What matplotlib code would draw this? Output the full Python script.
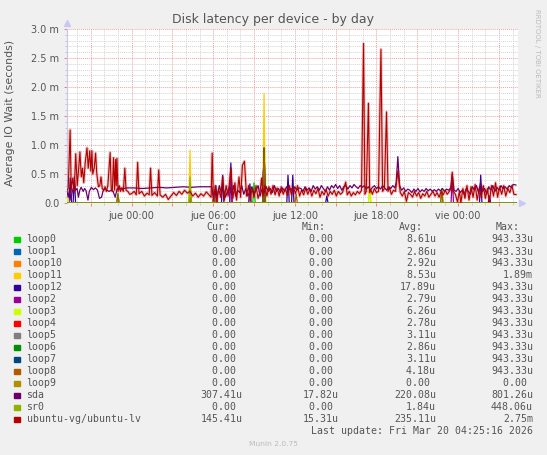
import numpy as np
import matplotlib.pyplot as plt
from matplotlib.patches import Rectangle
from matplotlib.ticker import MultipleLocator, FixedLocator

W, H = 547, 455

# hours relative to "jue 00:00", values in milliseconds
t_start, t_end = -4.74, 28.4

ubuntu_lv = [(-4.74, 0.22), (-4.65, 0.25), (-4.51, 1.26), (-4.43, 0.22), (-4.32, 0.43), (-4.21, 0.2),
             (-4.10, 0.85), (-3.99, 0.3), (-3.88, 0.6), (-3.79, 0.88), (-3.69, 0.45), (-3.60, 0.6),
             (-3.51, 0.35), (-3.40, 0.7), (-3.27, 0.95), (-3.18, 0.6), (-3.07, 0.9), (-2.99, 0.55),
             (-2.91, 0.9), (-2.85, 0.5), (-2.74, 0.6), (-2.64, 0.86), (-2.55, 0.5), (-2.43, 0.28),
             (-2.33, 0.3), (-2.24, 0.45), (-2.15, 0.25), (-2.06, 0.22), (-1.94, 0.28), (-1.85, 0.2),
             (-1.74, 0.3), (-1.57, 0.87), (-1.49, 0.25), (-1.41, 0.2), (-1.32, 0.78), (-1.24, 0.22),
             (-1.17, 0.75), (-1.12, 0.3), (-1.07, 0.77), (-0.99, 0.2), (-0.90, 0.3), (-0.82, 0.2),
             (-0.71, 0.25), (-0.60, 0.2), (-0.49, 0.6), (-0.40, 0.22), (-0.27, 0.2), (-0.13, 0.15),
             (0.0, 0.16), (0.2, 0.2), (0.35, 0.14), (0.45, 0.7), (0.55, 0.16), (0.75, 0.2), (0.95, 0.12),
             (1.15, 0.17), (1.3, 0.14), (1.4, 0.6), (1.5, 0.13), (1.7, 0.18), (1.9, 0.12), (2.0, 0.57),
             (2.1, 0.14), (2.3, 0.1), (2.5, 0.15), (2.7, 0.06), (2.9, 0.12), (3.1, 0.18), (3.3, 0.13),
             (3.5, 0.2), (3.7, 0.15), (3.9, 0.22), (4.1, 0.17), (4.3, 0.2), (4.5, 0.12), (4.7, 0.17),
             (4.9, 0.1), (5.1, 0.16), (5.3, 0.12), (5.5, 0.19), (5.7, 0.14), (5.85, 0.1),
             (5.93, 0.86), (6.02, 0.04), (6.15, 0.3), (6.28, 0.02), (6.4, 0.25), (6.55, 0.1), (6.7, 0.45),
             (6.82, 0.05), (6.95, 0.3), (7.1, 0.12), (7.3, 0.6), (7.45, 0.08), (7.6, 0.35), (7.72, 0.05),
             (7.9, 0.45), (8.02, 0.1), (8.15, 0.65), (8.3, 0.72), (8.45, 0.12), (8.6, 0.3), (8.72, 0.04),
             (8.85, 0.25), (9.0, 0.1), (9.15, 0.3), (9.3, 0.08), (9.45, 0.2), (9.56, 0.43), (9.65, 0.12),
             (9.8, 0.3), (9.95, 0.12), (10.1, 0.28), (10.25, 0.15), (10.4, 0.3), (10.55, 0.14),
             (10.7, 0.26), (10.85, 0.12), (11.0, 0.28), (11.15, 0.15), (11.3, 0.25), (11.45, 0.13),
             (11.6, 0.3), (11.75, 0.14), (11.9, 0.27), (12.05, 0.16), (12.2, 0.3), (12.35, 0.12),
             (12.5, 0.22), (12.65, 0.14), (12.8, 0.26), (12.95, 0.15), (13.1, 0.24), (13.25, 0.12),
             (13.4, 0.22), (13.55, 0.16), (13.7, 0.25), (13.85, 0.1), (14.0, 0.2), (14.15, 0.14),
             (14.3, 0.23), (14.45, 0.12), (14.6, 0.2), (14.75, 0.15), (14.9, 0.22), (15.05, 0.12),
             (15.2, 0.2), (15.35, 0.15), (15.5, 0.18), (15.74, 0.36), (15.85, 0.14), (16.0, 0.2),
             (16.15, 0.12), (16.3, 0.18), (16.45, 0.14), (16.6, 0.2), (16.75, 0.16), (16.9, 0.22),
             (17.05, 2.75), (17.15, 0.15), (17.25, 0.2), (17.41, 1.72), (17.5, 0.18), (17.6, 0.22),
             (17.7, 0.15), (17.85, 0.25), (18.0, 0.18), (18.15, 0.2), (18.33, 2.65), (18.45, 0.2),
             (18.58, 0.25), (18.74, 1.57), (18.85, 0.2), (18.95, 0.26), (19.1, 0.15), (19.25, 0.22),
             (19.4, 0.2), (19.57, 0.55), (19.75, 0.18), (19.9, 0.12), (20.05, 0.2), (20.2, 0.03),
             (20.35, 0.18), (20.5, 0.15), (20.65, 0.1), (20.8, 0.2), (20.95, 0.12), (21.1, 0.18),
             (21.25, 0.08), (21.4, 0.16), (21.55, 0.12), (21.7, 0.2), (21.85, 0.1), (22.0, 0.15),
             (22.15, 0.2), (22.3, 0.12), (22.45, 0.18), (22.6, 0.1), (22.75, 0.2), (22.9, 0.14),
             (23.05, 0.22), (23.2, 0.15), (23.35, 0.2), (23.5, 0.25), (23.57, 0.53), (23.65, 0.2),
             (23.8, 0.15), (23.95, 0.02), (24.1, 0.2), (24.2, 0.0), (24.35, 0.25), (24.5, 0.08),
             (24.65, 0.3), (24.8, 0.05), (24.95, 0.28), (25.1, 0.1), (25.25, 0.32), (25.4, 0.05),
             (25.55, 0.25), (25.7, 0.1), (25.85, 0.3), (26.0, 0.08), (26.15, 0.25), (26.3, 0.02),
             (26.45, 0.3), (26.6, 0.12), (26.75, 0.35), (26.9, 0.1), (27.05, 0.28), (27.2, 0.15),
             (27.35, 0.3), (27.5, 0.12), (27.65, 0.25), (27.8, 0.18), (27.95, 0.3), (28.1, 0.15),
             (28.25, 0.145)]

sda = [(-4.74, 0.2), (-4.65, 0.1), (-4.55, 0.25), (-4.45, 0.05), (-4.35, 0.2), (-4.25, 0.28),
       (-4.19, 0.4), (-4.12, 0.22), (-4.0, 0.25), (-3.9, 0.1), (-3.8, 0.22), (-3.7, 0.27),
       (-3.55, 0.2), (-3.45, 0.25), (-3.35, 0.22), (-3.2, 0.05), (-3.1, 0.2), (-2.95, 0.27),
       (-2.8, 0.23), (-2.65, 0.26), (-2.5, 0.22), (-2.35, 0.08), (-2.2, 0.1), (-2.1, 0.2),
       (-1.95, 0.25), (-1.8, 0.22), (-1.65, 0.2), (-1.5, 0.22), (-1.35, 0.2), (-1.2, 0.1),
       (-1.05, 0.25), (-0.9, 0.24), (-0.75, 0.26), (-0.6, 0.25), (-0.3, 0.26), (0.2, 0.26),
       (0.8, 0.25), (1.4, 0.26), (2.0, 0.27), (2.6, 0.26), (3.2, 0.27), (3.8, 0.28), (4.4, 0.27),
       (5.0, 0.28), (5.6, 0.28), (5.9, 0.28),
       (6.0, 0.1), (6.15, 0.22), (6.3, 0.12), (6.45, 0.3), (6.6, 0.18), (6.75, 0.25), (6.9, 0.1),
       (7.05, 0.2), (7.2, 0.28), (7.35, 0.15), (7.5, 0.3), (7.65, 0.12), (7.8, 0.22), (7.95, 0.18),
       (8.1, 0.3), (8.25, 0.15), (8.4, 0.25), (8.55, 0.12), (8.7, 0.2), (8.85, 0.28), (9.0, 0.15),
       (9.15, 0.22), (9.3, 0.3), (9.45, 0.12), (9.6, 0.25), (9.75, 0.18), (9.9, 0.28), (10.05, 0.2),
       (10.2, 0.25), (10.35, 0.18), (10.5, 0.3), (10.65, 0.2), (10.8, 0.25), (10.95, 0.18),
       (11.1, 0.26), (11.25, 0.2), (11.4, 0.28), (11.55, 0.22), (11.7, 0.25), (11.85, 0.2),
       (12.0, 0.28), (12.15, 0.22), (12.3, 0.26),
       (12.45, 0.25), (12.6, 0.2), (12.75, 0.28), (12.9, 0.22), (13.05, 0.26), (13.2, 0.2),
       (13.35, 0.3), (13.5, 0.24), (13.65, 0.28), (13.8, 0.22), (13.95, 0.3), (14.1, 0.25),
       (14.25, 0.2), (14.4, 0.28), (14.55, 0.22), (14.7, 0.3), (14.85, 0.26), (15.0, 0.32),
       (15.15, 0.25), (15.3, 0.3), (15.45, 0.22), (15.6, 0.28), (15.75, 0.3), (15.9, 0.24),
       (16.05, 0.3), (16.2, 0.26), (16.35, 0.32), (16.5, 0.28), (16.65, 0.25), (16.8, 0.3),
       (16.95, 0.27), (17.1, 0.3), (17.25, 0.24), (17.4, 0.28), (17.55, 0.22), (17.7, 0.27),
       (17.85, 0.3), (18.0, 0.25), (18.15, 0.28), (18.3, 0.24), (18.45, 0.3), (18.6, 0.26),
       (18.75, 0.22), (18.9, 0.28), (19.05, 0.25), (19.2, 0.3), (19.35, 0.26), (19.45, 0.35),
       (19.57, 0.8), (19.7, 0.3), (19.85, 0.22), (20.0, 0.26), (20.15, 0.2), (20.3, 0.24),
       (20.45, 0.22), (20.6, 0.18), (20.75, 0.24), (20.9, 0.2), (21.05, 0.25), (21.2, 0.19),
       (21.35, 0.23), (21.5, 0.2), (21.65, 0.25), (21.8, 0.21), (21.95, 0.24), (22.1, 0.2),
       (22.25, 0.23), (22.4, 0.2), (22.55, 0.24), (22.7, 0.21), (22.85, 0.25), (23.0, 0.2),
       (23.15, 0.24), (23.3, 0.22), (23.45, 0.26), (23.57, 0.5), (23.7, 0.22), (23.85, 0.2),
       (24.0, 0.25), (24.15, 0.18), (24.3, 0.22), (24.45, 0.15), (24.6, 0.25), (24.75, 0.2),
       (24.9, 0.15), (25.05, 0.28), (25.2, 0.22), (25.35, 0.3), (25.5, 0.18), (25.65, 0.35),
       (25.8, 0.2), (25.95, 0.25), (26.1, 0.15), (26.25, 0.28), (26.4, 0.22), (26.55, 0.3),
       (26.7, 0.2), (26.85, 0.27), (27.0, 0.22), (27.15, 0.3), (27.3, 0.25), (27.45, 0.28),
       (27.6, 0.24), (27.75, 0.3), (27.9, 0.27), (28.05, 0.32), (28.25, 0.31)]

# loop devices are idle except for a few short spikes: (hour, ms)
loop0_spikes = [(-1.0, 0.17), (6.05, 0.12), (9.0, 0.35), (9.74, 0.943), (22.8, 0.25)]
loop1_spikes = [(9.74, 0.943)]
loop10_spikes = [(9.74, 0.943)]
loop11_spikes = [(4.3, 0.91), (9.74, 1.89), (17.5, 0.3)]
loop12_spikes = [(-4.5, 0.43), (-4.2, 0.45), (4.3, 0.1), (6.2, 0.3), (6.7, 0.48), (7.3, 0.69),
                 (8.7, 0.33), (9.74, 0.943), (11.5, 0.48), (11.85, 0.48), (14.35, 0.12),
                 (25.66, 0.48), (26.3, 0.12)]
loop2_spikes = [(7.3, 0.6), (9.74, 0.943), (23.57, 0.45)]
loop3_spikes = [(-4.7, 0.1), (4.3, 0.3), (9.8, 0.943), (17.5, 0.25)]
loop4_spikes = [(9.74, 0.943)]
loop5_spikes = [(9.74, 0.943)]
loop6_spikes = [(9.74, 0.943)]
loop7_spikes = [(9.74, 0.943)]
loop8_spikes = [(-1.0, 0.15), (4.35, 0.1), (6.05, 0.1), (9.74, 0.943), (12.1, 0.15), (22.8, 0.2)]
loop9_spikes = []
sr0_spikes = [(4.3, 0.448)]

names = ['loop0', 'loop1', 'loop10', 'loop11', 'loop12', 'loop2', 'loop3', 'loop4', 'loop5',
         'loop6', 'loop7', 'loop8', 'loop9', 'sda', 'sr0', 'ubuntu-vg/ubuntu-lv']
colors = ['#00CC00', '#0066B3', '#FF8000', '#FFCC00', '#330099', '#990099', '#CCFF00', '#FF0000',
          '#808080', '#008F00', '#00487D', '#B35A00', '#B38F00', '#6B006B', '#8FB300', '#B30000']
cur = ['0.00'] * 13 + ['307.41u', '0.00', '145.41u']
mins = ['0.00'] * 13 + ['17.82u', '0.00', '15.31u']
avgs = ['8.61u', '2.86u', '2.92u', '8.53u', '17.89u', '2.79u', '6.26u', '2.78u', '3.11u',
        '2.86u', '3.11u', '4.18u', '0.00', '220.08u', '1.84u', '235.11u']
maxs = ['943.33u'] * 3 + ['1.89m'] + ['943.33u'] * 8 + ['0.00', '801.26u', '448.06u', '2.75m']

xticks = list(range(-3, 28, 3))
xtick_labels = {0: 'jue 00:00', 6: 'jue 06:00', 12: 'jue 12:00', 18: 'jue 18:00', 24: 'vie 00:00'}
yticks = [0.0, 0.5, 1.0, 1.5, 2.0, 2.5, 3.0]


def spike_series(spikes, half=0.09):
    t, v = [t_start], [0.0]
    for h, val in spikes:
        t += [h - half, h, h + half]
        v += [0.0, val, 0.0]
    t.append(28.25)
    v.append(0.0)
    return t, v


fig = plt.figure(figsize=(W / 100, H / 100), dpi=100, facecolor='#F0F0F0')
ax = fig.add_axes([67 / W, 1 - 203 / H, (518 - 67) / W, (203 - 29) / H])
ax.set_facecolor('white')

spikes_all = [loop0_spikes, loop1_spikes, loop10_spikes, loop11_spikes, loop12_spikes,
              loop2_spikes, loop3_spikes, loop4_spikes, loop5_spikes, loop6_spikes,
              loop7_spikes, loop8_spikes, loop9_spikes]
for i, sp in enumerate(spikes_all):
    t, v = spike_series(sp)
    ax.plot(t, v, color=colors[i], lw=0.9, zorder=3 + i * 0.01)

t, v = zip(*sda)
ax.plot(t, v, color=colors[13], lw=0.9, zorder=4)
t, v = spike_series(sr0_spikes)
ax.plot(t, v, color=colors[14], lw=0.9, zorder=4.1)
t, v = zip(*ubuntu_lv)
ax.plot(t, v, color=colors[15], lw=2.2, alpha=0.22, zorder=4.2)
ax.plot(t, v, color=colors[15], lw=0.8, zorder=4.3)

ax.set_xlim(t_start, t_end)
ax.set_ylim(0, 3.0)

# grid
ax.xaxis.set_major_locator(FixedLocator(xticks))
ax.xaxis.set_minor_locator(MultipleLocator(1))
ax.yaxis.set_major_locator(FixedLocator(yticks))
ax.yaxis.set_minor_locator(MultipleLocator(0.1))
ax.grid(which='minor', color='#D4D4D4', ls=(0, (1, 1)), lw=0.7, zorder=1)
ax.grid(which='major', color='#F2A0A0', ls=(0, (1, 1)), lw=0.7, zorder=1.5)
ax.set_axisbelow(True)

ax.set_xticklabels([xtick_labels.get(x, '') for x in xticks])
ax.set_yticklabels(['0.0' if y == 0 else '%.1f m' % y for y in yticks])
ax.tick_params(which='major', length=2.5, width=0.7, color='#F08080', labelsize=7,
               labelcolor='#555555', pad=3)
ax.tick_params(which='minor', length=1.5, width=0.6, color='#C0C0C0')

for s in ['top', 'right', 'bottom']:
    ax.spines[s].set_visible(False)
ax.spines['left'].set_color('#C8C8EE')
ax.spines['left'].set_linewidth(0.8)
ax.axhline(0, color='#B0B890', lw=1.0, zorder=2)
ax.plot([t_start], [3.1], marker='^', ms=4, color='#C8C8F4', clip_on=False, zorder=5)
ax.plot([t_end + 0.3], [0], marker='>', ms=4, color='#C8C8F4', clip_on=False, zorder=5)

fig.text(273 / W, 1 - 20 / H, 'Disk latency per device - by day', ha='center', va='center',
         fontsize=9, color='#555555')
fig.text(10.5 / W, 1 - 113 / H, 'Average IO Wait (seconds)', ha='center', va='center',
         rotation=90, fontsize=7.9, color='#555555')
fig.text(537 / W, 1 - 53 / H, 'RRDTOOL / TOBI OETIKER', ha='center', va='center',
         rotation=270, fontsize=5, color='#BBBBBB')

# legend table
mono = 'DejaVu Sans Mono'
lc = '#555555'
for hx, lab in zip([230, 326, 423, 520], ['Cur:', 'Min:', 'Avg:', 'Max:']):
    fig.text(hx / W, 1 - 227.5 / H, lab, ha='right', va='center', family=mono, fontsize=7.1,
             color=lc)


def pad(s):
    return s if s[-1].isalpha() else s + ' '


for i, name in enumerate(names):
    y = 239.5 + 12 * i
    fig.patches.append(Rectangle((14 / W, 1 - (y + 2.8) / H), 5.6 / W, 5.6 / H,
                                 color=colors[i], transform=fig.transFigure))
    fig.text(26.5 / W, 1 - y / H, name, ha='left', va='center', family=mono, fontsize=7.1,
             color=lc)
    for cx, col in zip([242.5, 339, 436, 533], [cur, mins, avgs, maxs]):
        fig.text(cx / W, 1 - y / H, pad(col[i]), ha='right', va='center', family=mono,
                 fontsize=7.1, color=lc)

fig.text(533 / W, 1 - 431.5 / H, 'Last update: Fri Mar 20 04:25:16 2026', ha='right',
         va='center', family=mono, fontsize=7.1, color=lc)
fig.text(273 / W, 1 - 444 / H, 'Munin 2.0.75', ha='center', va='center', fontsize=5.4,
         color='#BBBBBB')

fig.savefig('out.png', dpi=100, facecolor=fig.get_facecolor())
